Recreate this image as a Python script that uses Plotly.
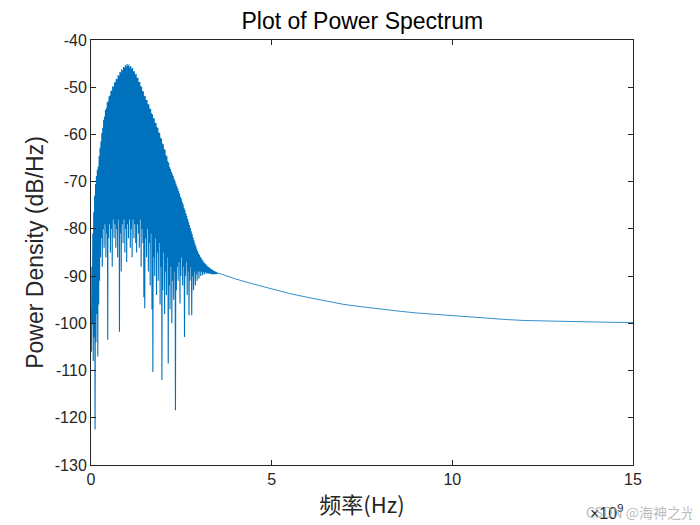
import numpy as np
import plotly.graph_objects as go

# ---- data (frequency in units of 1e9 Hz, PSD in dB/Hz) ----
# dense oscillating region: local maxima at bins 0, 0.025, ... 3.5
peak_db = [
    -97, -88, -81, -76.5, -73, -70.5, -68.8, -67.5, -66.8, -64.6,
    -62.8, -61.5, -59.7, -58.6, -56.9, -56.2, -54.8, -54.4, -53.2, -53.0,
    -51.9, -51.8, -50.8, -50.7, -49.8, -49.9, -49.0, -48.9, -48.2, -48.3,
    -47.4, -47.6, -46.8, -46.9, -46.2, -46.4, -45.7, -45.9, -45.3, -45.6,
    -45.1, -45.5, -45.2, -45.8, -45.5, -46.1, -45.9, -46.6, -46.6, -47.3,
    -47.2, -48.0, -48.0, -48.9, -48.9, -49.8, -49.9, -50.8, -50.9, -51.8,
    -51.9, -52.7, -52.7, -53.6, -53.6, -54.5, -54.6, -55.5, -55.7, -56.5,
    -56.6, -57.5, -57.6, -58.5, -58.6, -59.6, -59.7, -60.7, -60.9, -61.9,
    -62.1, -63.1, -63.3, -64.4, -64.6, -65.7, -66.0, -66.9, -67.3, -67.9,
    -68.3, -68.8, -69.4, -69.8, -70.4, -70.9, -71.4, -72.0, -72.5, -73.2,
    -73.6, -74.3, -74.8, -75.5, -76.0, -76.7, -77.2, -77.9, -78.5, -79.2,
    -79.8, -80.5, -81.1, -81.8, -82.4, -83.1, -83.6, -84.2, -84.7, -85.2,
    -85.5, -85.9, -86.2, -86.5, -86.8, -87.1, -87.3, -87.5, -87.7, -87.9,
    -88.1, -88.2, -88.4, -88.5, -88.6, -88.8, -88.9, -89.0, -89.1, -89.2,
    -89.3,
]
# local minima between those bins (0.0125, 0.0375, ... 3.4875)
trough_db = [
    -106, -100, -108, -103, -122.5, -104, -98, -107, -96, -91,
    -86, -82, -88, -80, -84, -79, -86, -81, -103.5, -82,
    -79, -85, -80, -88, -78, -82, -79, -84, -80, -86,
    -78, -101.8, -81, -89, -79, -83, -78, -85, -80, -87,
    -79, -82, -78, -84, -80, -86, -78, -82, -79, -83,
    -85, -79, -81, -84, -78, -88, -80, -83, -94.5, -96.8,
    -82, -86, -80, -89, -83, -92, -81, -97, -110.3, -86,
    -90, -82, -94, -85, -91, -83, -96, -88, -112, -93,
    -85, -98, -89, -94, -86, -108.5, -92, -97, -88, -100,
    -91, -95, -89, -118.4, -93, -88, -91, -87, -95.8, -90,
    -86, -92, -88, -102.9, -90, -87, -94, -89, -98.3, -91,
    -88, -98.3, -90, -93, -89, -92, -89.5, -91, -89, -90.5,
    -89, -90, -89, -89.8, -89.2, -89.6, -89.2, -89.5, -89.3, -89.5,
    -89.4, -89.5, -89.5, -89.6, -89.6, -89.6, -89.6, -89.6, -89.6, -89.5,
]
# smooth tail
tail_f = [3.5, 4.0, 4.5, 5.0, 5.5, 6.0, 6.5, 7.0, 7.5, 8.0, 8.5, 9.0, 9.5,
          10.0, 10.5, 11.0, 11.5, 12.0, 12.5, 13.0, 13.5, 14.0, 14.5, 15.0]
tail_db = [-89.3, -90.6, -91.7, -92.7, -93.7, -94.5, -95.3, -96.0, -96.5, -97.0,
           -97.4, -97.8, -98.1, -98.4, -98.7, -99.0, -99.2, -99.4, -99.5,
           -99.6, -99.7, -99.7, -99.8, -99.8]

x_ticks = [0, 5, 10, 15]
x_tick_labels = ["0", "5", "10", "15"]
y_ticks = [-130, -120, -110, -100, -90, -80, -70, -60, -50, -40]
y_tick_labels = ["-130", "-120", "-110", "-100", "-90", "-80", "-70", "-60", "-50", "-40"]

# ---- assemble series ----
bin_step = 0.025
peak_f = [bin_step * i for i in range(len(peak_db))]
trough_f = [bin_step * (j + 0.5) for j in range(len(trough_db))]
xs, ys = [], []
for i in range(len(peak_db)):
    xs.append(peak_f[i]); ys.append(peak_db[i])
    if i < len(trough_db):
        xs.append(trough_f[i]); ys.append(trough_db[i])

fig = go.Figure()
fig.add_trace(go.Scatter(x=xs, y=ys, mode="lines",
                         line=dict(color="#0072BD", width=1.1),
                         showlegend=False, hoverinfo="skip"))
fig.add_trace(go.Scatter(x=tail_f, y=tail_db, mode="lines",
                         line=dict(color="#0072BD", width=0.8),
                         showlegend=False, hoverinfo="skip"))

axis_common = dict(showline=True, linecolor="#262626", linewidth=1,
                   mirror="ticks", ticks="inside", ticklen=5,
                   tickcolor="#262626", tickwidth=1, showgrid=False,
                   zeroline=False,
                   tickfont=dict(family="Liberation Sans, Arial", size=16, color="#262626"))

# page body adds an 8px offset; figure sized so the axes land where the reference has them
fig.update_layout(
    width=692, height=517,
    paper_bgcolor="white", plot_bgcolor="white",
    margin=dict(l=83, r=67, t=32, b=60, autoexpand=False),
    title=dict(text="Plot of Power Spectrum", x=0.512, xanchor="center",
               y=0.975, yanchor="middle",
               font=dict(family="Liberation Sans, Arial", size=23, color="black")),
    xaxis=dict(range=[0, 15], tickvals=x_ticks, ticktext=x_tick_labels,
               automargin=False,
               title=dict(text="频率(Hz)", standoff=10,
                          font=dict(family="Noto Sans CJK SC, Liberation Sans", size=22, color="#262626")),
               **axis_common),
    yaxis=dict(range=[-130, -40], tickvals=y_ticks, ticktext=y_tick_labels,
               automargin=False,
               title=dict(text="Power Density (dB/Hz)", standoff=4,
                          font=dict(family="Liberation Sans, Arial", size=23, color="#262626")),
               **axis_common),
)

fig.add_annotation(x=0.985, y=-0.11, xref="paper", yref="paper",
                   text="×10<sup>9</sup>", showarrow=False, xanchor="right",
                   yanchor="middle",
                   font=dict(family="Liberation Sans, Arial", size=16, color="#262626"))
fig.add_annotation(x=1.118, y=-0.11, xref="paper", yref="paper",
                   text="CSDN @海神之光", showarrow=False, xanchor="right",
                   yanchor="middle",
                   font=dict(family="Noto Sans CJK SC", size=14, color="rgba(170,170,170,0.8)"))

fig.write_html("out.html")
